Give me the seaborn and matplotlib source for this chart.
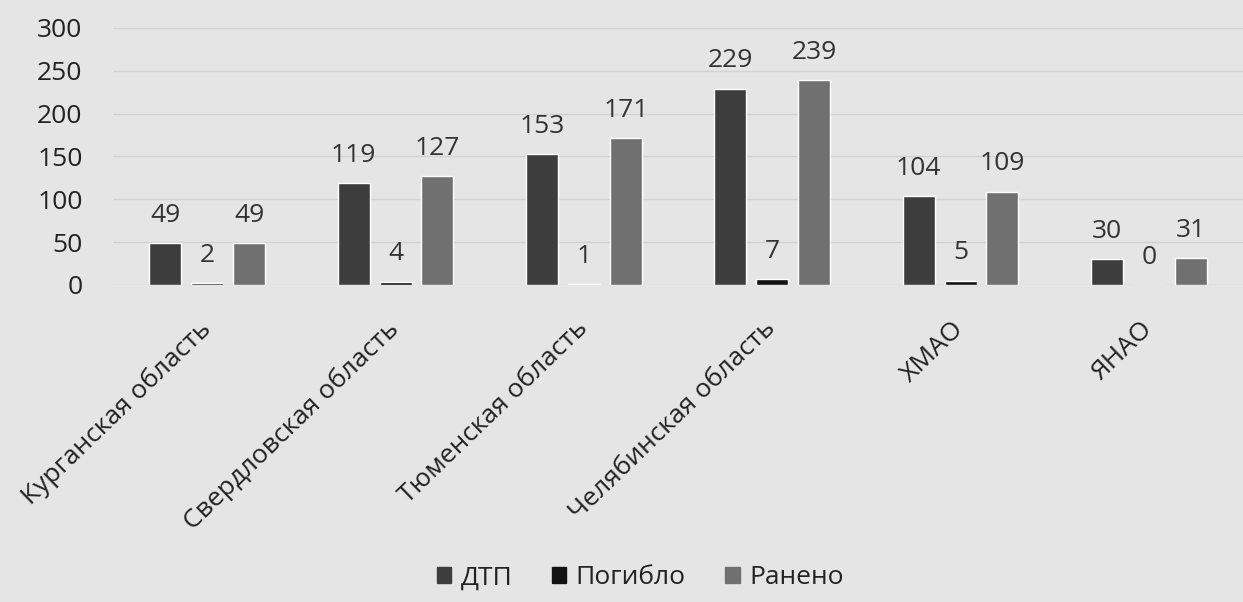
import pandas as pd
import matplotlib.pyplot as plt
import seaborn as sns

regions = ["Курганская область", "Свердловская область", "Тюменская область",
           "Челябинская область", "ХМАО", "ЯНАО"]
dtp = [49, 119, 153, 229, 104, 30]
killed = [2, 4, 1, 7, 5, 0]
injured = [49, 127, 171, 239, 109, 31]
series = ["ДТП", "Погибло", "Ранено"]

COLORS = {"ДТП": "#3d3d3d", "Погибло": "#121212", "Ранено": "#707070"}

df = pd.DataFrame({
    "region": regions * 3,
    "value": dtp + killed + injured,
    "series": [s for s in series for _ in regions],
})

sns.set_style("white")
plt.rcParams["font.family"] = ["Open Sans", "DejaVu Sans"]
BG = "#e5e5e5"
FS = 19

fig = plt.figure(figsize=(12.43, 6.02), dpi=100, facecolor=BG)
ax = fig.add_axes([0.091, 0.5266, 0.909, 0.427])
ax.set_facecolor(BG)

sns.barplot(data=df, x="region", y="value", hue="series", palette=COLORS,
            width=0.667, gap=0.236, ax=ax, legend=True)

for cont in ax.containers:
    ax.bar_label(cont, padding=11, fontsize=FS, color="#333333")

ax.set_ylim(0, 300)
ax.set_yticks(range(0, 301, 50))
ax.yaxis.grid(True, color="#d2d2d2", linewidth=1)
ax.set_axisbelow(True)
sns.despine(ax=ax, left=True, bottom=True)
ax.set_xlabel("")
ax.set_ylabel("")
ax.tick_params(axis="y", length=0, pad=22, labelsize=FS, labelcolor="#222222")
ax.tick_params(axis="x", length=0, pad=29, labelsize=FS, labelcolor="#222222")
for lab in ax.get_xticklabels():
    lab.set_rotation(44)
    lab.set_ha("right")
    lab.set_va("center")
    lab.set_rotation_mode("anchor")

ax.legend_.remove()
handles = [plt.Rectangle((0, 0), 1, 1, color=COLORS[s]) for s in series]
fig.legend(handles, series, loc="center", bbox_to_anchor=(0.515, 0.04), ncol=3,
           frameon=False, fontsize=FS, handlelength=0.55, handleheight=0.55,
           handletextpad=0.35, columnspacing=1.5, labelcolor="#222222")

fig.savefig("out.png", dpi=100, facecolor=BG)
